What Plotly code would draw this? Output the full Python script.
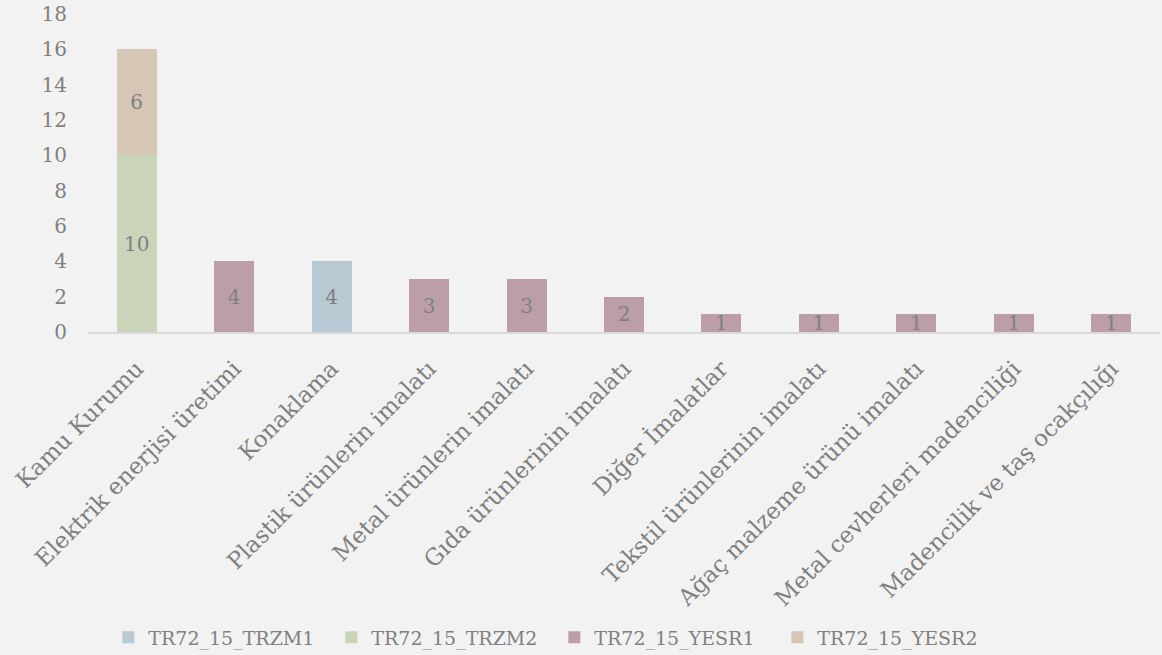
import plotly.graph_objects as go

categories = ["Kamu Kurumu", "Elektrik enerjisi üretimi", "Konaklama",
              "Plastik ürünlerin imalatı", "Metal ürünlerin imalatı",
              "Gıda ürünlerinin imalatı", "Diğer İmalatlar",
              "Tekstil ürünlerinin imalatı", "Ağaç malzeme ürünü imalatı",
              "Metal cevherleri madenciliği", "Madencilik ve taş ocakçılığı"]

trzm1 = [None, None, 4, None, None, None, None, None, None, None, None]
trzm2 = [10, None, None, None, None, None, None, None, None, None, None]
yesr1 = [None, 4, None, 3, 3, 2, 1, 1, 1, 1, 1]
yesr2 = [6, None, None, None, None, None, None, None, None, None, None]

series = [("TR72_15_TRZM1", trzm1, "#b9c9d3"),
          ("TR72_15_TRZM2", trzm2, "#cad4b9"),
          ("TR72_15_YESR1", yesr1, "#bb9ea8"),
          ("TR72_15_YESR2", yesr2, "#d5c6b6")]

FONT = "DejaVu Serif"
GRAY = "#808080"

fig = go.Figure()
for name, vals, color in series:
    fig.add_trace(go.Bar(
        x=categories, y=vals, name=name,
        marker=dict(color=color, line=dict(width=0)),
        text=[("" if v is None else str(v)) for v in vals],
        textposition="inside", insidetextanchor="middle", textangle=0,
        textfont=dict(family=FONT, size=20, color=GRAY),
    ))

fig.update_layout(
    barmode="stack", bargap=0.59,
    width=1162, height=655,
    paper_bgcolor="#f2f2f2", plot_bgcolor="#f2f2f2",
    margin=dict(l=88, r=2, t=14, b=323, autoexpand=False),
    font=dict(family=FONT, size=19, color=GRAY),
    uniformtext=dict(minsize=20, mode="show"),
    legend=dict(orientation="h", x=0.435, xanchor="center", y=-0.96, yanchor="middle",
                font=dict(family=FONT, size=19, color=GRAY), traceorder="normal",
                entrywidth=178),
    showlegend=True,
)
fig.update_xaxes(tickangle=-45, showline=True, linecolor="#d9d9d9", linewidth=2,
                 ticks="", automargin=False, ticklabelstandoff=12,
                 tickfont=dict(family=FONT, size=23, color=GRAY))
fig.update_yaxes(range=[0, 18], dtick=2, showgrid=False, zeroline=False,
                 showline=False, ticks="", automargin=False,
                 tickfont=dict(family=FONT, size=20, color=GRAY),
                 ticklabelstandoff=20)

fig.write_html("out.html", config={"displayModeBar": False},
               post_script="document.body.style.margin='0';document.body.style.overflow='hidden';")
